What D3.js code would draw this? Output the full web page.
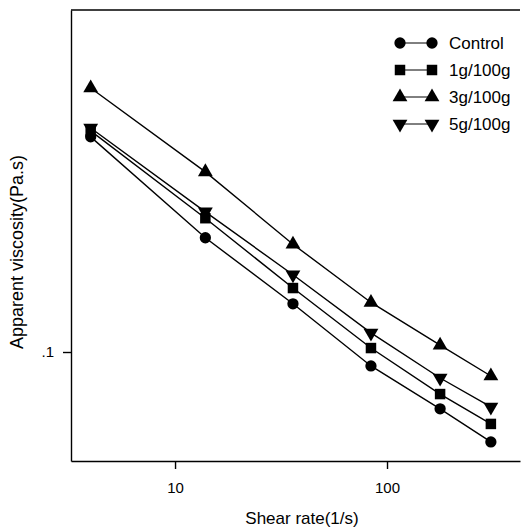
<!DOCTYPE html>
<html>
<head>
<meta charset="utf-8">
<script src="https://cdn.jsdelivr.net/npm/d3@7"></script>
<style>
  html, body { margin: 0; padding: 0; background: #fff; }
  svg { display: block; }
  text { font-family: "Liberation Sans", Arial, sans-serif; fill: #000; }
</style>
</head>
<body>
<svg id="chart" width="530" height="528"></svg>
<script>
// ---- data ----
const shearRate = [4, 13.9, 36, 84, 178, 309];
const seriesNames = ["Control", "1g/100g", "3g/100g", "5g/100g"];
const control   = [0.345, 0.193, 0.132, 0.0923, 0.0721, 0.0596];
const g1        = [0.357, 0.216, 0.1445, 0.1023, 0.0785, 0.0661];
const g3        = [0.457, 0.282, 0.186, 0.133, 0.104, 0.0871];
const g5        = [0.363, 0.224, 0.156, 0.1116, 0.0861, 0.0729];
const xTickValues = [10, 100];
const xTickLabels = ["10", "100"];
const yTickValues = [0.1];
const yTickLabels = [".1"];
const xTitle = "Shear rate(1/s)";
const yTitle = "Apparent viscosity(Pa.s)";

const seriesValues = [control, g1, g3, g5];
const markerTypes = [d3.symbolCircle, d3.symbolSquare, d3.symbolTriangle, "down"];

// ---- layout ----
const mLeft = 71, mRight = 520, mTop = 10, mBottom = 461;
const svg = d3.select("#chart");

const x = d3.scaleLog().domain([3.23, 424]).range([mLeft, mRight]);
const y = d3.scaleLog().domain([0.0534, 0.716]).range([mBottom, mTop]);

// axes
const xAxis = d3.axisBottom(x)
  .tickValues(xTickValues)
  .tickFormat((d, i) => xTickLabels[i])
  .tickSizeInner(8).tickSizeOuter(0).tickPadding(10);
const gx = svg.append("g").attr("transform", `translate(0,${mBottom})`).call(xAxis);
gx.selectAll("text").style("font-size", "15px").attr("dy", "0.9em");

const yAxis = d3.axisLeft(y)
  .tickValues(yTickValues)
  .tickFormat((d, i) => yTickLabels[i])
  .tickSizeInner(8).tickSizeOuter(0).tickPadding(9);
const gy = svg.append("g").attr("transform", `translate(${mLeft},0)`).call(yAxis);
gy.selectAll("text").style("font-size", "15px");

svg.selectAll(".domain, .tick line").attr("stroke", "#000").attr("stroke-width", 1.4);

// top frame line
svg.append("line")
  .attr("x1", mLeft).attr("x2", mRight).attr("y1", mTop).attr("y2", mTop)
  .attr("stroke", "#000").attr("stroke-width", 1.4);

// titles
svg.append("text")
  .attr("x", 302).attr("y", 524)
  .attr("text-anchor", "middle")
  .style("font-size", "17px")
  .text(xTitle);
svg.append("text")
  .attr("transform", `translate(23,252) rotate(-90)`)
  .attr("text-anchor", "middle")
  .style("font-size", "18px")
  .text(yTitle);

// marker helper
function marker(g, type, cx, cy) {
  if (type === "down") {
    g.append("path")
      .attr("d", d3.symbol(d3.symbolTriangle, 95)())
      .attr("transform", `translate(${cx},${cy}) rotate(180)`)
      .attr("fill", "#000");
  } else {
    const size = type === d3.symbolCircle ? 100 : (type === d3.symbolSquare ? 110 : 95);
    g.append("path")
      .attr("d", d3.symbol(type, size)())
      .attr("transform", `translate(${cx},${cy})`)
      .attr("fill", "#000");
  }
}

// series
const line = d3.line().x((d, i) => x(shearRate[i])).y(d => y(d));
const plotG = svg.append("g");
seriesValues.forEach((vals, si) => {
  plotG.append("path")
    .attr("d", line(vals))
    .attr("fill", "none")
    .attr("stroke", "#000")
    .attr("stroke-width", 1.4);
});
seriesValues.forEach((vals, si) => {
  vals.forEach((v, i) => marker(plotG, markerTypes[si], x(shearRate[i]), y(v)));
});

// legend
const legendY = [43, 70, 97, 124];
const lg = svg.append("g");
seriesNames.forEach((name, si) => {
  const ly = legendY[si];
  lg.append("line").attr("x1", 400).attr("x2", 432).attr("y1", ly).attr("y2", ly)
    .attr("stroke", "#000").attr("stroke-width", 1);
  marker(lg, markerTypes[si], 400, ly);
  marker(lg, markerTypes[si], 432, ly);
  lg.append("text").attr("x", 449).attr("y", ly).attr("dy", "0.36em")
    .style("font-size", "17px").text(name);
});
</script>
</body>
</html>
